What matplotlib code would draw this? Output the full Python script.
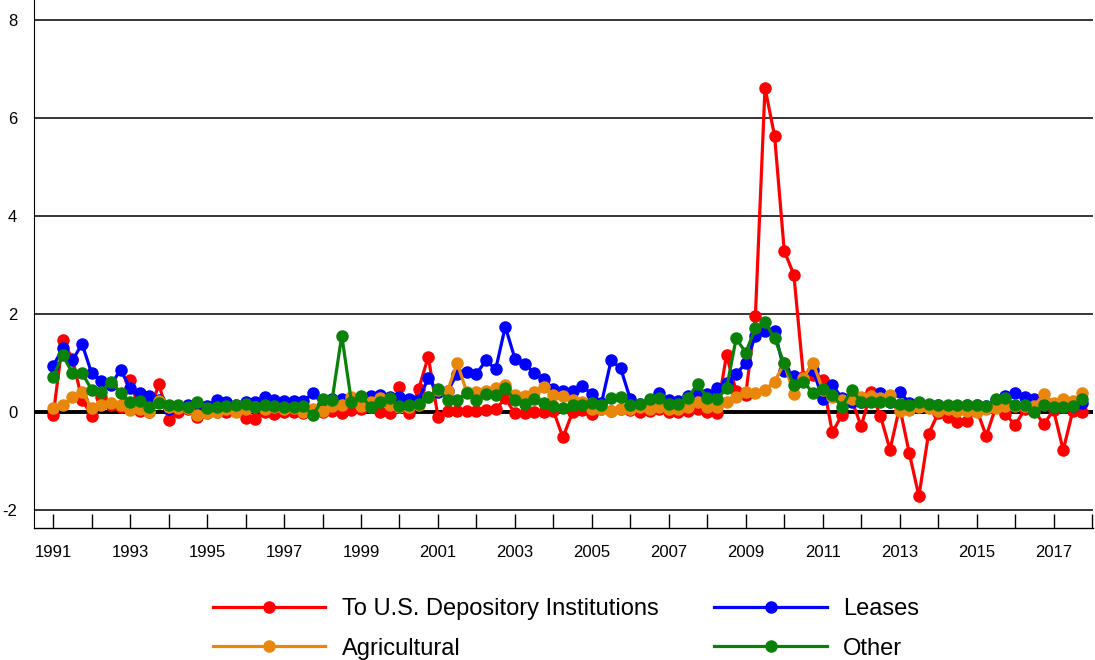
import matplotlib
matplotlib.use("Agg")
import matplotlib.pyplot as plt
import matplotlib.ticker as mticker
import numpy as np
import pandas as pd

# quarterly, 1991Q1 - 2017Q4
quarters = pd.period_range("1991Q1", "2017Q4", freq="Q")

depository = [
    -0.07, 1.46, 1.08, 0.25,
    -0.08, 0.30, 0.15, 0.10,
    0.65, 0.02, 0.00, 0.57,
    -0.16, 0.00, 0.05, -0.10,
    -0.03, 0.00, 0.00, 0.02,
    -0.12, -0.14, 0.00, -0.05,
    0.00, -0.01, -0.02, 0.03,
    0.00, 0.01, -0.03, 0.03,
    0.06, 0.10, 0.00, -0.03,
    0.50, -0.03, 0.47, 1.13,
    -0.10, 0.02, 0.02, 0.02,
    0.02, 0.04, 0.05, 0.28,
    -0.03, -0.03, 0.00, 0.00,
    0.02, -0.52, 0.00, 0.03,
    -0.05, 0.05, 0.02, 0.05,
    0.03, 0.00, 0.02, 0.05,
    0.00, 0.00, 0.02, 0.05,
    0.00, -0.02, 1.16, 0.42,
    0.35, 1.95, 6.62, 5.63,
    3.29, 2.80, 0.72, 0.75,
    0.65, -0.42, -0.06, 0.25,
    -0.29, 0.40, -0.08, -0.77,
    0.10, -0.84, -1.72, -0.45,
    -0.03, -0.11, -0.20, -0.18,
    0.05, -0.49, 0.10, -0.04,
    -0.27, 0.05, 0.02, -0.25,
    0.04, -0.78, 0.02, 0.00,
]

leases = [
    0.94, 1.30, 1.05, 1.39,
    0.79, 0.63, 0.55, 0.86,
    0.49, 0.39, 0.33, 0.25,
    0.06, 0.10, 0.14, 0.10,
    0.12, 0.24, 0.20, 0.15,
    0.20, 0.20, 0.30, 0.25,
    0.22, 0.22, 0.22, 0.38,
    0.17, 0.27, 0.27, 0.24,
    0.31, 0.33, 0.35, 0.31,
    0.30, 0.27, 0.25, 0.69,
    0.40, 0.42, 0.78, 0.82,
    0.78, 1.05, 0.87, 1.74,
    1.09, 0.98, 0.80, 0.67,
    0.46, 0.43, 0.43, 0.52,
    0.37, 0.18, 1.05, 0.89,
    0.26, 0.16, 0.20, 0.38,
    0.25, 0.22, 0.33, 0.38,
    0.37, 0.48, 0.60, 0.77,
    1.00, 1.55, 1.66, 1.65,
    0.84, 0.74, 0.65, 0.85,
    0.27, 0.55, 0.28, 0.20,
    0.20, 0.22, 0.38, 0.20,
    0.41, 0.18, 0.15, 0.12,
    0.15, 0.12, 0.12, 0.15,
    0.15, 0.12, 0.25, 0.33,
    0.38, 0.30, 0.26, 0.15,
    0.10, 0.10, 0.12, 0.19,
]

agricultural = [
    0.08, 0.14, 0.30, 0.41,
    0.08, 0.14, 0.18, 0.14,
    0.04, 0.05, -0.01, 0.22,
    0.10, 0.08, 0.08, -0.06,
    -0.03, 0.00, 0.05, 0.00,
    0.05, 0.10, 0.05, 0.10,
    0.05, 0.08, 0.00, 0.05,
    0.02, 0.13, 0.15, 0.30,
    0.12, 0.20, 0.28, 0.15,
    0.10, 0.10, 0.15, 0.30,
    0.45, 0.43, 1.00, 0.40,
    0.41, 0.42, 0.48, 0.55,
    0.35, 0.33, 0.40, 0.50,
    0.34, 0.33, 0.24, 0.20,
    0.06, 0.05, 0.02, 0.05,
    0.05, 0.10, 0.05, 0.10,
    0.05, 0.05, 0.10, 0.20,
    0.10, 0.10, 0.20, 0.30,
    0.40, 0.38, 0.45, 0.62,
    0.99, 0.37, 0.70, 1.00,
    0.45, 0.30, 0.25, 0.26,
    0.30, 0.33, 0.28, 0.35,
    0.01, 0.04, 0.10, 0.08,
    0.02, 0.05, 0.02, 0.02,
    0.00, 0.05, 0.08, 0.13,
    0.13, 0.13, 0.13, 0.36,
    0.18, 0.26, 0.22, 0.39,
]

other = [
    0.72, 1.16, 0.79, 0.80,
    0.45, 0.41, 0.62, 0.39,
    0.21, 0.22, 0.10, 0.18,
    0.14, 0.14, 0.10, 0.20,
    0.08, 0.10, 0.12, 0.14,
    0.17, 0.10, 0.14, 0.12,
    0.10, 0.10, 0.12, -0.07,
    0.26, 0.25, 1.56, 0.21,
    0.33, 0.10, 0.21, 0.28,
    0.12, 0.14, 0.16, 0.30,
    0.46, 0.25, 0.25, 0.39,
    0.25, 0.37, 0.35, 0.48,
    0.25, 0.16, 0.26, 0.18,
    0.12, 0.07, 0.14, 0.14,
    0.19, 0.14, 0.28, 0.31,
    0.14, 0.16, 0.26, 0.28,
    0.16, 0.17, 0.28, 0.58,
    0.28, 0.26, 0.48, 1.50,
    1.21, 1.71, 1.83, 1.50,
    0.99, 0.55, 0.62, 0.38,
    0.46, 0.35, 0.10, 0.45,
    0.21, 0.21, 0.20, 0.20,
    0.17, 0.14, 0.21, 0.16,
    0.15, 0.15, 0.15, 0.15,
    0.15, 0.12, 0.26, 0.28,
    0.14, 0.15, -0.01, 0.14,
    0.10, 0.11, 0.12, 0.26,
]

series = [
    ("To U.S. Depository Institutions", depository, "#ff0000"),
    ("Leases", leases, "#0000ff"),
    ("Agricultural", agricultural, "#e8870c"),
    ("Other", other, "#0a820a"),
]

plt.rcParams["font.family"] = ["Liberation Sans", "DejaVu Sans"]
plt.rcParams["axes.unicode_minus"] = False

x = quarters.year + (quarters.quarter - 1) / 4.0

fig = plt.figure(figsize=(10.95, 6.6), dpi=100)
ax = fig.add_axes([0.031, 0.2, 0.967, 0.8])

for yv in [-2, 2, 4, 6, 8]:
    ax.axhline(yv, color="black", lw=1.1, zorder=0)
ax.axhline(0, color="black", lw=2.8, zorder=1)

lines = {}
for name, vals, col in series:
    lines[name], = ax.plot(x, vals, color=col, lw=2.3, marker="o",
                           markersize=8, label=name, zorder=3)

ax.set_xlim(1990.5, 2018.02)
ax.set_ylim(-2.37, 8.41)
ax.set_yticks([-2, 0, 2, 4, 6, 8])
ax.xaxis.set_major_locator(mticker.MultipleLocator(2, offset=1))
ax.xaxis.set_minor_locator(mticker.MultipleLocator(1))
ax.xaxis.set_major_formatter(mticker.FormatStrFormatter("%d"))
ax.tick_params(axis="x", which="both", direction="in", length=10,
               width=1, color="black", labelsize=12, pad=12)
ax.tick_params(axis="y", length=0, labelsize=12, pad=12)

for s in ["top", "right"]:
    ax.spines[s].set_visible(False)
ax.spines["left"].set_linewidth(0.8)
ax.spines["bottom"].set_linewidth(1.0)

handles = [lines[n] for n in ["To U.S. Depository Institutions", "Agricultural",
                              "Leases", "Other"]]
fig.legend(handles=handles, loc="center", bbox_to_anchor=(0.517, 0.047),
           ncol=2, frameon=False, fontsize=17, handlelength=4.75,
           handletextpad=0.7, columnspacing=2.37, labelspacing=0.74,
           numpoints=1)

fig.savefig("out.png", dpi=100)
